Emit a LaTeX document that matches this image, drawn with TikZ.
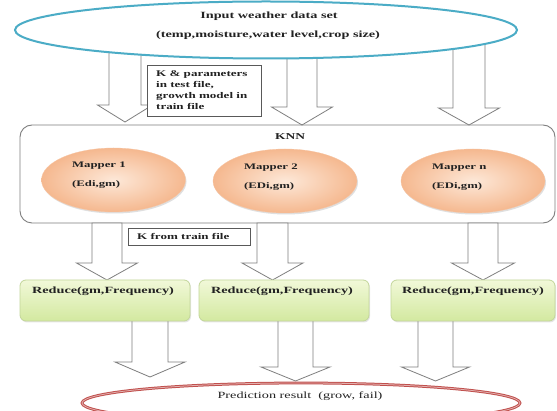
\documentclass[tikz,border=0pt]{standalone}
\usepackage{fontspec}
\setmainfont{Liberation Serif}[FakeStretch=1.5]
\usetikzlibrary{shapes.geometric,shadows}
\definecolor{aqua}{HTML}{4BACC6}
\definecolor{arrowgray}{HTML}{7F7F7F}
\definecolor{peachin}{HTML}{FDE8D8}
\definecolor{peachout}{HTML}{F5B88F}
\definecolor{greentop}{HTML}{F1F8D8}
\definecolor{greenbot}{HTML}{D3E9A0}
\definecolor{greenedge}{HTML}{C3D69B}
\definecolor{redline}{HTML}{C0504D}
\definecolor{txt}{HTML}{222222}
\newcommand{\blockarr}[6]{%
  \draw[barrow] ({#1-#3},#2) -- ({#1+#3},#2) -- ({#1+#3},#5) -- ({#1+#4},#5)
    -- (#1,#6) -- ({#1-#4},#5) -- ({#1-#3},#5) -- cycle;}
\tikzset{
  barrow/.style={draw=arrowgray, fill=white, line width=0.8pt, line join=miter},
  lblbox/.style={draw=arrowgray!70!black, fill=white, line width=0.9pt, inner sep=0pt},
  txtb/.style={text=txt, inner sep=0pt, font=\fontsize{9.5}{11}\selectfont\bfseries},
  txtm/.style={text=txt, inner sep=0pt, align=left, font=\fontsize{8.5}{19}\selectfont\bfseries},
  txtl/.style={text=txt, inner sep=0pt, align=left, font=\fontsize{8.7}{11}\selectfont\bfseries},
  mapper/.style={ellipse, inner sep=0pt, minimum width=144pt, minimum height=64pt,
    shading=radial, inner color=peachin, outer color=peachout, draw=peachout!80!white, line width=0.3pt,
    drop shadow={opacity=0.25, shadow xshift=1pt, shadow yshift=-1.5pt}},
  reducebox/.style={rectangle, rounded corners=6pt, inner sep=0pt, minimum height=41pt,
    top color=greentop, bottom color=greenbot, draw=greenedge, line width=0.8pt,
    drop shadow={opacity=0.2, shadow xshift=1pt, shadow yshift=-1.5pt}},
}
\begin{document}
\begin{tikzpicture}[x=1pt, y=-1pt]
\useasboundingbox (0,0) rectangle (557,411);
\clip (0,0) rectangle (557,411);
\fill[white] (0,0) rectangle (557,411);

% top arrows
\blockarr{125}{50}{16}{27.5}{105}{122}
\blockarr{302}{55}{15}{30.5}{107}{125}
\blockarr{469}{44}{16}{30.5}{108}{125}

% input ellipse
\node (input) [ellipse, draw=aqua, fill=white, line width=2pt, inner sep=0pt,
  minimum width=502pt, minimum height=57pt] at (266,30) {};
\node (in1) [txtb] at (269,16) {Input weather data set};
\node (in2) [txtb] at (268,35) {(temp,moisture,water level,crop size)};

% label 1
\node (lbl1) [lblbox, minimum width=114pt, minimum height=51pt] at (204,90.5) {};
\node (lbl1t) [txtl, anchor=west] at (156,90.5) {K \& parameters\\in test file,\\growth model in\\train file};

% KNN box
\node (knn) [draw=arrowgray, rounded corners=12pt, line width=0.9pt, inner sep=0pt,
  minimum width=535pt, minimum height=98pt] at (287.5,174) {};
\node (knnt) [txtb, font=\fontsize{9}{11}\selectfont\bfseries] at (290,137) {KNN};

% mappers
\node (m1) [mapper] at (113.5,180) {};
\node (m2) [mapper] at (285,181) {};
\node (mn) [mapper] at (473,181) {};
\node (m1t) [txtm, anchor=west] at (72,175) {Mapper 1\\(Edi,gm)};
\node (m2t) [txtm, anchor=west] at (244,177) {Mapper 2\\(EDi,gm)};
\node (mnt) [txtm, anchor=west] at (432,177) {Mapper n\\(EDi,gm)};

% lower arrows
\blockarr{107}{223}{15}{30.5}{263}{280}
\blockarr{272.5}{223}{15.5}{30.5}{263}{280}
\blockarr{483}{223}{15}{31.5}{263}{280}

% label 2
\node (lbl2) [lblbox, minimum width=122pt, minimum height=17pt] at (189,236.5) {};
\node (lbl2t) [txtl, anchor=west] at (137,236.5) {K from train file};

% bottom arrows
\blockarr{150}{318}{18}{35}{362}{377}
\blockarr{295.5}{318}{17.5}{34.5}{367}{381}
\blockarr{435.5}{318}{17.5}{34}{367}{381}

% reduce boxes
\node (r1) [reducebox, minimum width=170pt] at (105,300.5) {};
\node (r2) [reducebox, minimum width=170pt] at (284,300.5) {};
\node (r3) [reducebox, minimum width=164pt] at (473,300.5) {};
\node (r1t) [txtb] at (103,291) {Reduce(gm,Frequency)};
\node (r2t) [txtb] at (282,291) {Reduce(gm,Frequency)};
\node (r3t) [txtb] at (473,291) {Reduce(gm,Frequency)};

% prediction ellipse
\node (pred) [ellipse, draw=redline, line width=2.8pt, fill=white, inner sep=0pt,
  minimum width=438pt, minimum height=40pt,
  postaction={draw=redline!45!white, line width=0.8pt}] at (301,403) {};
\node (predt) [text=txt, inner sep=0pt, font=\fontsize{9.5}{11}\selectfont] at (300,396) {Prediction result\ \ (grow,\ fail)};
\end{tikzpicture}
\end{document}
